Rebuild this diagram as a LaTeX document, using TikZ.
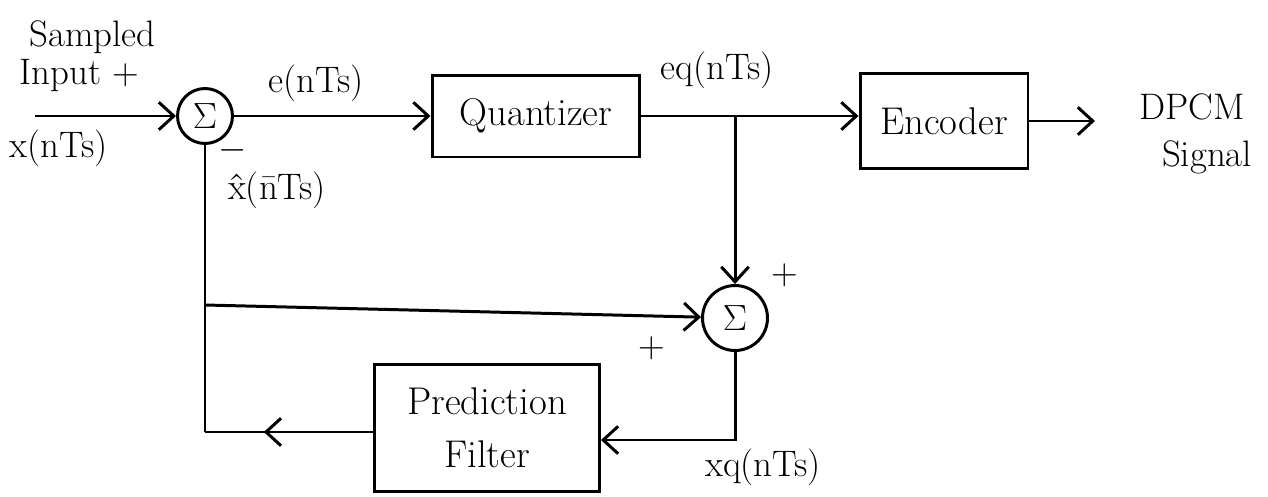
\documentclass[tikz,border=0pt]{standalone}
\usetikzlibrary{arrows.meta,decorations.markings}
\begin{document}
\begin{tikzpicture}[x=0.02cm,y=-0.02cm, line width=1.7pt,
  blk/.style={draw, rectangle, inner sep=0pt, font=\fontsize{22}{26}\selectfont},
  sumnode/.style={draw, circle, inner sep=0pt, font=\huge},
  lbl/.style={font=\fontsize{21}{25}\selectfont, inner sep=0pt},
  tip/.tip={Straight Barb[length=3mm,width=5.5mm]},
  arr/.style={-tip},
  midarr/.style={postaction=decorate, decoration={markings, mark=at position #1 with {\arrow{tip}}}}
]
\path[use as bounding box] (0,0) rectangle (1268,497);

% blocks
\node[sumnode, minimum size=1.1cm] (s1) at (205,116) {$\Sigma$};
\node[blk, minimum width=4.16cm, minimum height=1.64cm] (q) at (536,116) {Quantizer};
\node[blk, minimum width=3.36cm, minimum height=1.9cm] (enc) at (944,121) {Encoder};
\node[sumnode, minimum size=1.3cm] (s2) at (735,318) {$\Sigma$};
\node[blk, minimum width=4.5cm, minimum height=2.54cm, align=center] (pf) at (487,428) {Prediction\\[4pt]Filter};

% junctions and free ends
\coordinate (in) at (35,116);
\coordinate (out) at (1095,121);
\coordinate (j1) at (735,116);
\coordinate (j2) at (205,305);
\coordinate (c1) at (205,432);
\coordinate (c2) at (735,440);

% connectors
\draw[arr] (in) -- (s1.west);
\draw[arr] (s1.east) -- (q.west);
\draw[arr] (q.east) -- (q.east -| enc.west);
\draw[arr] (enc.east |- out) -- (out);
\draw[arr] (j1) -- (s2.north);
\draw[arr] (j2) -- (s2);
\draw[midarr=0.65] (pf.west |- c1) -- (c1);
\draw (c1) -- (s1.south);
\draw[arr] (s2.south) -- (c2) -- (c2 -| pf.east);

% labels
\node[lbl, anchor=west] at (28,37) {Sampled};
\node[lbl, anchor=west] at (18,75) {Input +};
\node[lbl, anchor=west] at (8,148) {x(nTs)};
\node[lbl] at (316,83) {e(nTs)};
\node[lbl] at (717,70) {eq(nTs)};
\node[lbl] at (1192,107) {DPCM};
\node[lbl] at (1207,157) {Signal};
\node[lbl] at (233,150) {$-$};
\node[lbl] at (277,190) {\^{x}(\={n}Ts)};
\node[lbl] at (785,275) {+};
\node[lbl] at (652,348) {+};
\node[lbl] at (763,467) {xq(nTs)};
\end{tikzpicture}
\end{document}
